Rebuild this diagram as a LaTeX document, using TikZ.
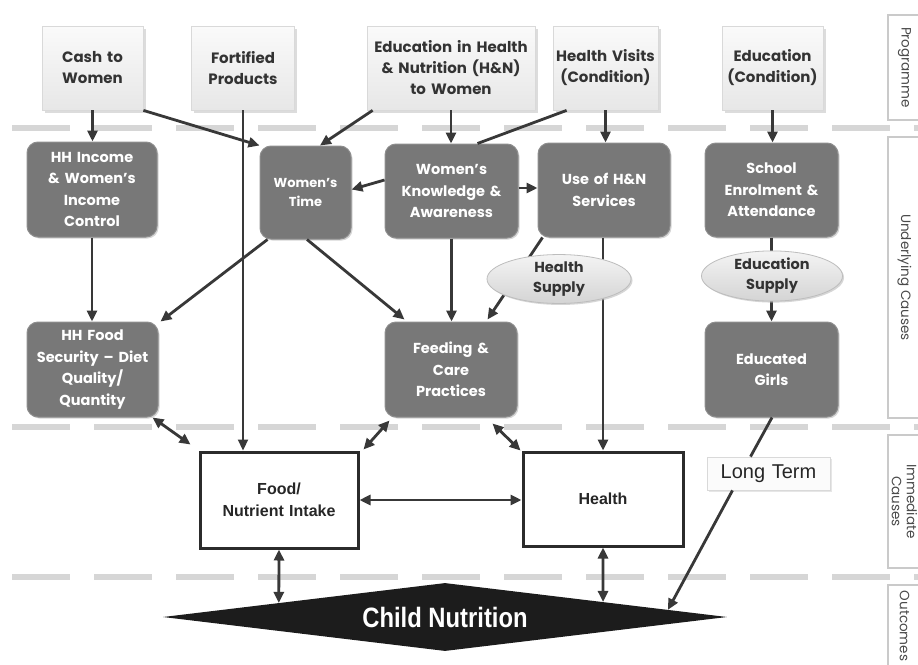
\documentclass[tikz,border=0pt]{standalone}
\usepackage{fontspec}
\setmainfont{Poppins}
\newfontfamily\arialf{Liberation Sans}
\newfontfamily\arialn{Liberation Sans}[FakeStretch=0.85]
\usetikzlibrary{arrows.meta,shapes.geometric,shadows,calc}
\definecolor{sepc}{HTML}{D6D6D6}
\definecolor{tbtop}{HTML}{FAFAFA}
\definecolor{tbbot}{HTML}{E7E7E7}
\definecolor{tbdraw}{HTML}{D9D9D9}
\definecolor{tbtext}{HTML}{333333}
\definecolor{gbfill}{HTML}{787878}
\definecolor{gbdraw}{HTML}{8E8E8E}
\definecolor{arrc}{HTML}{383838}
\definecolor{eltop}{HTML}{F4F4F4}
\definecolor{elbot}{HTML}{D4D4D4}
\definecolor{eldraw}{HTML}{BDBDBD}
\definecolor{labc}{HTML}{CACACA}
\definecolor{labtext}{HTML}{4A4A4A}
\definecolor{ibdraw}{HTML}{2B2B2B}
\definecolor{dmc}{HTML}{1C1C1C}
\definecolor{shc}{HTML}{BBBBBB}
\tikzset{
 topbox/.style={rectangle, draw=tbdraw, line width=0.8pt, top color=tbtop, bottom color=tbbot,
   drop shadow={shadow xshift=2.5pt, shadow yshift=-2.5pt, fill=shc},
   inner sep=0pt, minimum height=84pt, align=center, text=tbtext,
   font=\bfseries\fontsize{15}{21}\selectfont},
 graybox/.style={rectangle, rounded corners=11pt, fill=gbfill, draw=gbdraw, line width=1pt,
   drop shadow={shadow xshift=1.5pt, shadow yshift=-1.5pt, fill=shc, opacity=0.6},
   inner sep=0pt, minimum height=95pt, align=center, text=white,
   font=\bfseries\fontsize{14.5}{21.5}\selectfont},
 supply/.style={ellipse, draw=eldraw, line width=0.8pt, top color=eltop, bottom color=elbot,
   drop shadow={shadow xshift=1.5pt, shadow yshift=-1.5pt, fill=shc, opacity=0.6},
   inner sep=0pt, align=center, text=tbtext, font=\bfseries\fontsize{14.5}{20}\selectfont},
 ibox/.style={rectangle, draw=ibdraw, line width=3pt, fill=white, inner sep=0pt, align=center,
   text=black!85, font=\arialf\bfseries\fontsize{16}{22}\selectfont},
 ltbox/.style={rectangle, draw=tbdraw, line width=0.8pt, fill=white!97!gray,
   drop shadow={shadow xshift=1.5pt, shadow yshift=-1.5pt, fill=shc!70},
   inner sep=0pt, align=center, text=black!85, font=\arialf\fontsize{20}{24}\selectfont},
 labbox/.style={rectangle, rotate=-90, draw=labc, line width=2.5pt, fill=white, minimum height=33pt,
   inner sep=0pt, align=center, text=labtext, font=\fontsize{13.5}{15}\selectfont},
 conn/.style={draw=arrc, line width=2.8pt, -{Triangle[length=11pt,width=10pt]}},
 dconn/.style={draw=arrc, line width=2.8pt, {Triangle[length=11pt,width=10pt]}-{Triangle[length=11pt,width=10pt]}},
 lineonly/.style={draw=arrc, line width=2.8pt},
 sepline/.style={draw=sepc, line width=6pt, dash pattern=on 58pt off 24pt},
 childshape/.style={diamond, fill=dmc, shape aspect=8.3, minimum width=564pt, minimum height=68pt,
   inner sep=0pt, text=white, font=\arialn\bfseries\fontsize{28}{30}\selectfont}
}
\begin{document}
\begin{tikzpicture}[x=1pt,y=-1pt]
\useasboundingbox (0,0) rectangle (918,664);
\fill[white] (0,0) rectangle (918,664);
\begin{scope}
\clip (0,0) rectangle (918,664);
% separators
\foreach \yy in {128,427,577} \draw[sepline] (12,\yy) -- (918,\yy);
% level labels
\node[labbox, minimum width=105pt] (lprog) at (904.5,67.5) {Programme};
\node[labbox, minimum width=281pt] (lund) at (904.5,277.5) {Underlying Causes};
\node[labbox, minimum width=133pt] (limm) at (904.5,501.5) {Immediate\\Causes};
\node[labbox, minimum width=82pt] (lout) at (904.5,626) {Outcomes};
% programme boxes
\node[topbox, text width=101pt] (cash) at (92.5,68) {Cash to\\Women};
\node[topbox, text width=103pt] (fort) at (243,68) {Fortified\\Products};
\node[topbox, text width=168pt] (eduhn) at (451,68) {Education in Health\\\& Nutrition (H\&N)\\to Women};
\node[topbox, text width=105pt] (hvis) at (605.5,68) {Health Visits\\(Condition)};
\node[topbox, text width=101pt] (educ) at (772.5,68) {Education\\(Condition)};
% underlying causes
\node[graybox, text width=130pt] (hhinc) at (92,189.5) {HH Income\\\& Women's\\Income\\Control};
\node[graybox, text width=91pt, minimum height=93pt, font=\bfseries\fontsize{13}{19}\selectfont] (wtime) at (305.5,192.5) {Women's\\Time};
\node[graybox, text width=133pt, minimum height=94pt] (know) at (451.5,191) {Women's\\Knowledge \&\\Awareness};
\node[graybox, text width=132pt, minimum height=94pt] (useh) at (604,190) {Use of H\&N\\Services};
\node[graybox, text width=133pt, minimum height=94pt] (school) at (771.5,190) {School\\Enrolment \&\\Attendance};
\node[graybox, text width=131pt] (hhfood) at (92.5,369.5) {HH Food\\Security -- Diet\\Quality/\\Quantity};
\node[graybox, text width=132pt] (feed) at (451,369.5) {Feeding \&\\Care\\Practices};
\node[graybox, text width=133pt] (egirls) at (771.5,369.5) {Educated\\Girls};
% immediate causes
\node[ibox, text width=158pt, minimum height=96pt] (food) at (279,500) {Food/\\Nutrient Intake};
\node[ibox, text width=160pt, minimum height=94pt] (health) at (603,499) {Health};
\node[ltbox, text width=123pt, minimum height=33pt] (longterm) at (768.5,473.5) {Long Term};
% outcome
\node[childshape] (child) at (445,617) {Child Nutrition};
% connectors
\draw[conn] (cash.south) -- (cash.south |- hhinc.north);
\draw[conn] (cash.south east) -- (wtime.north west);
\draw[conn, line width=2.2pt] (fort.south) -- (fort.south |- food.north);
\draw[conn] ($(eduhn.south west)+(6,0)$) -- ($(wtime.north)+(14.5,0)$);
\draw[conn] (eduhn.south) -- (eduhn.south |- know.north);
\draw[lineonly] ($(hvis.south west)+(14,0)$) -- ($(know.north east)+(-41,0)$);
\draw[conn] (hvis.south) -- (hvis.south |- useh.north);
\draw[conn] (educ.south) -- (educ.south |- school.north);
\draw[conn] ($(know.west)+(0,-11)$) -- ($(wtime.east)+(0,-3)$);
\draw[conn] ($(know.east)+(0,-3)$) -- ($(useh.west)+(0,-2)$);
\draw[conn] (hhinc.south) -- (hhinc.south |- hhfood.north);
\draw[conn] ($(wtime.south west)+(8,0)$) -- ($(hhfood.north east)+(2,0)$);
\draw[conn] ($(wtime.south)+(1.5,0)$) -- ($(feed.north west)+(20,-2)$);
\draw[conn] (know.south) -- (know.south |- feed.north);
\draw[conn] ($(useh.south west)+(5,0)$) -- ($(feed.north east)+(-30,-2)$);
\draw[conn] (health.north |- useh.south) -- (health.north);
\draw[conn] (school.south) -- (school.south |- egirls.north);
\draw[dconn] ($(hhfood.south east)+(-6,0)$) -- ($(food.north west)+(-8,-6)$);
\draw[dconn] ($(feed.south west)+(5,3)$) -- ($(food.north east)+(4,-1)$);
\draw[dconn] ($(feed.south east)+(-25,6)$) -- ($(health.north west)+(-1,0)$);
\draw[dconn] (food.east) -- (food.east -| health.west);
\draw[lineonly] ($(egirls.south)+(0.5,0)$) -- ($(longterm.north)+(-18,0)$);
\draw[conn] ($(longterm.south)+(-36,0)$) -- ($(child.north)!0.79!(child.east)$);
\draw[dconn] (food.south) -- ($(child.west)!0.411!(child.north)$);
\draw[dconn] (health.south) -- ($(child.north)!0.56!(child.east)$);
% supply ellipses (drawn over the connectors that pass behind them)
\node[supply, minimum width=144pt, minimum height=48pt] (hsup) at (559,279) {Health\\Supply};
\node[supply, minimum width=141pt, minimum height=48pt] (esup) at (772,276) {Education\\Supply};
\end{scope}
\end{tikzpicture}
\end{document}
